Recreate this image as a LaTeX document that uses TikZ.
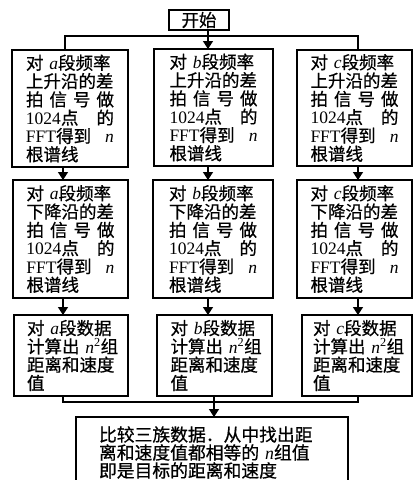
\documentclass[tikz,border=0pt]{standalone}
\usepackage{fontspec}
\setmainfont{Noto Sans CJK SC}[FakeBold=0.7]
\newfontfamily\lat{Liberation Serif}
\usetikzlibrary{arrows.meta}
\newcommand\jus[1]{\leavevmode\hbox to 88pt{#1}}
\newcommand\vi[1]{{\lat\itshape #1}}
\newcommand\vl[1]{{\lat #1}}
\begin{document}
\begin{tikzpicture}[x=1pt,y=-1pt,
  box/.style={draw, line width=1.8pt, inner sep=0pt, outer sep=0pt, anchor=north west,
    font=\fontsize{17.5}{18.3}\selectfont, align=left, text width=88pt},
  conn/.style={line width=1.5pt},
  arr/.style={line width=1.5pt, -{Triangle[length=8pt,width=10pt]}}]
\useasboundingbox (0,0) rectangle (413,480);
\fill[white] (0,0) rectangle (413,480);
% start
\node[draw, line width=1.8pt, inner sep=0pt, outer sep=0pt, anchor=north west,
  minimum width=60pt, minimum height=20pt, font=\fontsize{17.5}{18}\selectfont]
  (start) at (169,10) {开始};
% row 1
\node[box, minimum width=116pt, minimum height=117pt] (a1) at (12,50)
  {对 \vi{a}段频率\\上升沿的差\\\jus{拍\hfill 信\hfill 号\hfill 做}\\\jus{\vl{1024}点\hfill 的}\\\jus{\vl{FFT}得到\hfill\vi{n}}\\根谱线};
\node[box, minimum width=119pt, minimum height=117pt] (b1) at (154,49)
  {对 \vi{b}段频率\\上升沿的差\\\jus{拍\hfill 信\hfill 号\hfill 做}\\\jus{\vl{1024}点\hfill 的}\\\jus{\vl{FFT}得到\hfill\vi{n}}\\根谱线};
\node[box, minimum width=115pt, minimum height=116pt] (c1) at (297,50)
  {对 \vi{c}段频率\\上升沿的差\\\jus{拍\hfill 信\hfill 号\hfill 做}\\\jus{\vl{1024}点\hfill 的}\\\jus{\vl{FFT}得到\hfill\vi{n}}\\根谱线};
% row 2
\node[box, minimum width=115pt, minimum height=118pt] (a2) at (13,180)
  {对 \vi{a}段频率\\下降沿的差\\\jus{拍\hfill 信\hfill 号\hfill 做}\\\jus{\vl{1024}点\hfill 的}\\\jus{\vl{FFT}得到\hfill\vi{n}}\\根谱线};
\node[box, minimum width=120pt, minimum height=118pt] (b2) at (153,180)
  {对 \vi{b}段频率\\下降沿的差\\\jus{拍\hfill 信\hfill 号\hfill 做}\\\jus{\vl{1024}点\hfill 的}\\\jus{\vl{FFT}得到\hfill\vi{n}}\\根谱线};
\node[box, minimum width=115pt, minimum height=118pt] (c2) at (297,180)
  {对 \vi{c}段频率\\下降沿的差\\\jus{拍\hfill 信\hfill 号\hfill 做}\\\jus{\vl{1024}点\hfill 的}\\\jus{\vl{FFT}得到\hfill\vi{n}}\\根谱线};
% row 3
\node[box, minimum width=114pt, minimum height=81pt] (a3) at (14,315)
  {对 \vi{a}段数据\\\mbox{计算出 \vi{n}\textsuperscript{\vl{2}}组}\\距离和速度\\值};
\node[box, minimum width=115pt, minimum height=81pt] (b3) at (157,315)
  {对 \vi{b}段数据\\\mbox{计算出 \vi{n}\textsuperscript{\vl{2}}组}\\距离和速度\\值};
\node[box, minimum width=110pt, minimum height=81pt] (c3) at (302,315)
  {对 \vi{c}段数据\\\mbox{计算出 \vi{n}\textsuperscript{\vl{2}}组}\\距离和速度\\值};
% final
\node[box, minimum width=272pt, minimum height=71pt, text width=226pt,
  font=\fontsize{17.8}{18}\selectfont] (fin) at (76,417)
  {比较三族数据．从中找出距\\离和速度值都相等的 \vi{n}组值\\即是目标的距离和速度};
% connectors top
\coordinate (tm) at (208,36);
\coordinate (tl) at (65,36);
\coordinate (tr) at (358,36);
\draw[conn] (tl |- a1.north) -- (tl) -- (tr) -- (tr |- c1.north);
\draw[arr] (tm |- start.south) -- (tm |- b1.north);
% column arrows
\coordinate (xa) at (63,0);
\coordinate (xb) at (208,0);
\coordinate (xc) at (358,0);
\draw[arr] (xa |- a1.south) -- (xa |- a2.north);
\draw[arr] (xb |- b1.south) -- (xb |- b2.north);
\draw[arr] (xc |- c1.south) -- (xc |- c2.north);
\draw[arr] (xa |- a2.south) -- (xa |- a3.north);
\draw[arr] (xb |- b2.south) -- (xb |- b3.north);
\draw[arr] (xc |- c2.south) -- (xc |- c3.north);
% bottom join
\coordinate (bl) at (63,402);
\coordinate (br) at (358,402);
\coordinate (bm) at (214,402);
\draw[conn] (bl |- a3.south) -- (bl) -- (br) -- (br |- c3.south);
\draw[arr] (bm |- b3.south) -- (bm |- fin.north);
\end{tikzpicture}
\end{document}
